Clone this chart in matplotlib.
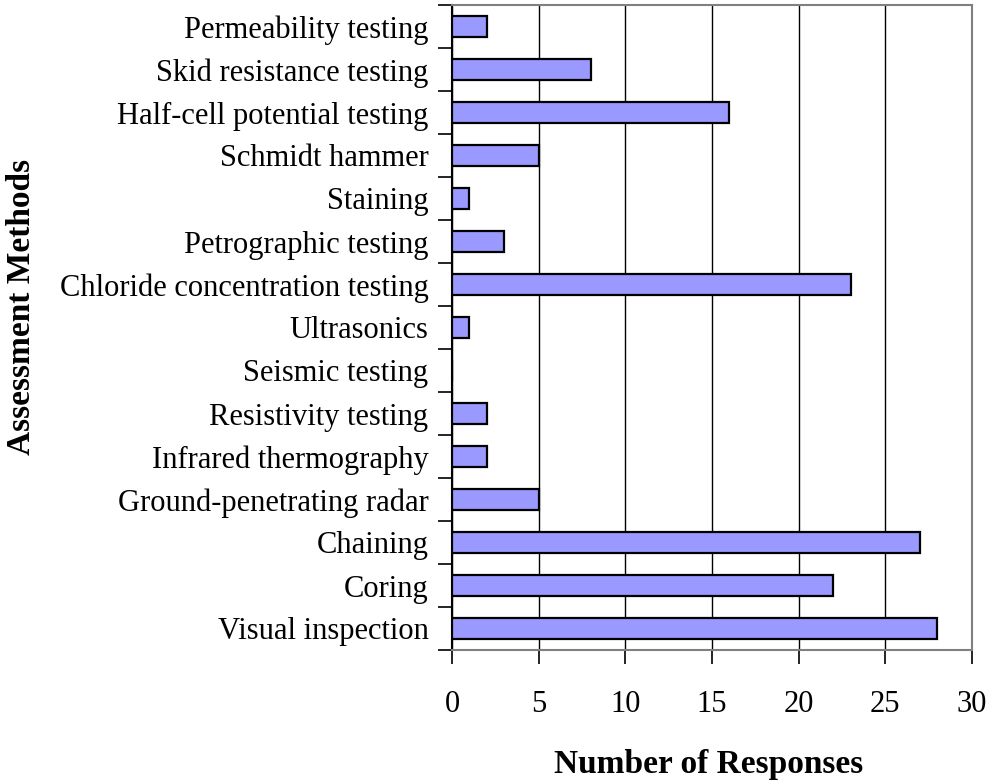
import matplotlib

matplotlib.use("Agg")
import matplotlib.pyplot as plt
import numpy as np

methods = [
    "Visual inspection",
    "Coring",
    "Chaining",
    "Ground-penetrating radar",
    "Infrared thermography",
    "Resistivity testing",
    "Seismic testing",
    "Ultrasonics",
    "Chloride concentration testing",
    "Petrographic testing",
    "Staining",
    "Schmidt hammer",
    "Half-cell potential testing",
    "Skid resistance testing",
    "Permeability testing",
]
responses = [28, 22, 27, 5, 2, 2, 0, 1, 23, 3, 1, 5, 16, 8, 2]
x_ticks = [0, 5, 10, 15, 20, 25, 30]

plt.rcParams["font.family"] = ["Liberation Serif", "DejaVu Serif"]

fig = plt.figure(figsize=(9.93, 7.82), dpi=100)
ax = fig.add_axes([452 / 993, 1 - 650 / 782, 520 / 993, 645 / 782])

y = np.arange(len(methods))
ax.barh(y, responses, height=0.47, color="#9999FF", edgecolor="black", linewidth=1.6, zorder=3)

ax.set_xlim(0, 30)
ax.set_ylim(-0.5, len(methods) - 0.5)
ax.set_xticks(x_ticks)
ax.set_xticklabels([str(t) for t in x_ticks], fontsize=22)
ax.set_yticks(y)
ax.set_yticklabels(methods, fontsize=22)
ax.set_yticks(np.arange(-0.5, len(methods), 1), minor=True)

ax.tick_params(axis="y", which="major", length=0, pad=17)
ax.tick_params(axis="y", which="minor", length=10, width=1.2, direction="out", color="black")
ax.tick_params(axis="x", length=10, width=1.2, direction="out", pad=19, color="black")

ax.xaxis.grid(True, color="black", linewidth=1, zorder=0)
ax.set_axisbelow(True)

ax.spines["left"].set_color("black")
ax.spines["left"].set_linewidth(1.5)
for side in ["top", "right", "bottom"]:
    ax.spines[side].set_color("#808080")
    ax.spines[side].set_linewidth(1.5)

fig.text(709 / 993, 1 - 765 / 782, "Number of Responses", fontsize=24,
         fontweight="bold", ha="center", va="center")
fig.text(22 / 993, 1 - 307 / 782, "Assessment Methods", fontsize=24,
         fontweight="bold", ha="center", va="center", rotation=90)

fig.savefig("out.png", dpi=100)
